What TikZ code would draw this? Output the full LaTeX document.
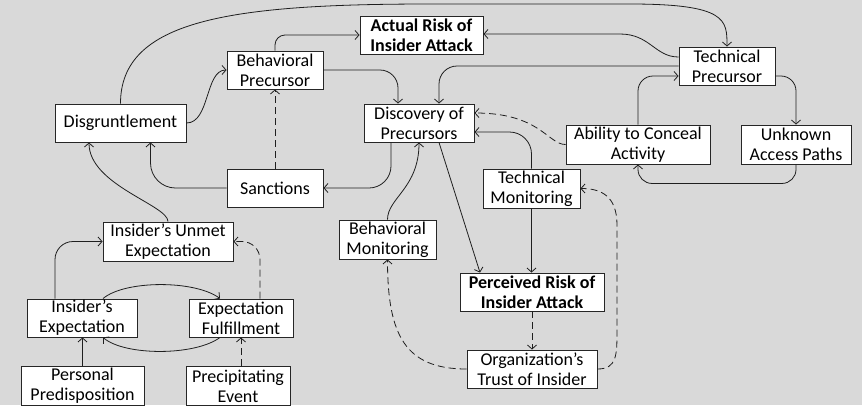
\documentclass[tikz,border=0pt]{standalone}
\usepackage{fontspec}
\setmainfont{Carlito}
\usetikzlibrary{arrows.meta,calc}
\definecolor{bggray}{HTML}{D9D9D9}
\begin{document}
\begin{tikzpicture}[x=1pt,y=-1pt,
  box/.style={draw=black!85, fill=white, line width=0.9pt, inner sep=0pt,
    align=center, font=\fontsize{18}{20}\selectfont},
  boldbox/.style={box, font=\fontsize{18}{20}\selectfont\bfseries},
  link/.style={draw=black!88, line width=0.8pt, -{Straight Barb[length=4pt,width=9pt]}},
  dlink/.style={link, dash pattern=on 7pt off 4pt}]
\useasboundingbox (0,0) rectangle (862,405);
\clip (0,0) rectangle (862,405);
\fill[bggray] (0,0) rectangle (862,405);

% boxes
\node[boldbox, minimum width=123pt, minimum height=38pt] (ar) at (421.5,35) {Actual Risk of\\Insider Attack};
\node[box, minimum width=96pt, minimum height=38pt] (bp) at (275,70) {Behavioral\\Precursor};
\node[box, minimum width=131pt, minimum height=38pt] (dis) at (120.5,123) {Disgruntlement};
\node[box, minimum width=110pt, minimum height=38pt] (dp) at (419,123) {Discovery of\\Precursors};
\node[box, minimum width=96pt, minimum height=38pt] (san) at (275,188) {Sanctions};
\node[box, minimum width=96pt, minimum height=38pt] (tp) at (727,66) {Technical\\Precursor};
\node[box, minimum width=144pt, minimum height=39pt] (ac) at (638,144.5) {Ability to Conceal\\Activity};
\node[box, minimum width=110pt, minimum height=39pt] (ua) at (796,144.5) {Unknown\\Access Paths};
\node[box, minimum width=97pt, minimum height=39pt] (tm) at (531.5,188.5) {Technical\\Monitoring};
\node[box, minimum width=97pt, minimum height=39pt] (bm) at (387.5,239.5) {Behavioral\\Monitoring};
\node[boldbox, minimum width=144pt, minimum height=38pt] (pr) at (532,292) {Perceived Risk of\\Insider Attack};
\node[box, minimum width=130pt, minimum height=38pt] (ot) at (532,369) {Organization’s\\Trust of Insider};
\node[box, minimum width=130pt, minimum height=39pt] (ue) at (168,241.5) {Insider’s Unmet\\Expectation};
\node[box, minimum width=110pt, minimum height=38pt] (ie) at (82,318) {Insider’s\\Expectation};
\node[box, minimum width=104pt, minimum height=38pt] (ef) at (241,318) {Expectation\\Fulfillment};
\node[box, minimum width=123pt, minimum height=39pt] (pp) at (82.5,386) {Personal\\Predisposition};
\node[box, minimum width=104pt, minimum height=39pt] (pe) at (238,386) {Precipitating\\Event};

% upper loop
\draw[link] (dis.north) .. controls (120.5,20) and (230,4) .. (430,4) -- (630,4)
  .. controls (727,4) and (727,20) .. (tp.north);
\draw[link] ([yshift=9pt]tp.west) .. controls (655,57) and (650,34) .. (620,34) -- ([yshift=1pt]ar.east);
\draw[link, rounded corners=10pt] (bp.north) |- (ar.west);
\draw[link] (dis.east) .. controls (210,123) and (205,70) .. (bp.west);
\draw[link, rounded corners=18pt] (bp.east) -| ([xshift=-21pt]dp.north);
\draw[link, rounded corners=18pt] (tp.west) -| ([xshift=20pt]dp.north);
\draw[link, rounded corners=15pt] (ac.north) |- ([yshift=-10pt]tp.west);
\draw[link, rounded corners=15pt] ([yshift=-10pt]tp.east) -| (ua.north);
\draw[link, rounded corners=14pt] (ua.south) -- ++(0,19) -| (ac.south);
\draw[dlink] (ac.west) .. controls (548,144.5) and (540,113) .. ([yshift=10pt]dp.east);
\draw[link, rounded corners=22pt] (tm.north) |- ([yshift=-9pt]dp.east);
\draw[link, rounded corners=22pt] ([xshift=-28pt]dp.south) |- (san.east);
\draw[link] (bm.north) .. controls (387.5,198) and (419,188) .. (dp.south);
\draw[link] ([xshift=20pt]dp.south) -- ([xshift=-52pt]pr.north);
\draw[link] (tm.south) -- (tm.south |- pr.north);
\draw[dlink] (pr.south) -- (ot.north);
\draw[dlink] (ot.west) .. controls (405,369) and (387.5,335) .. (bm.south);
\draw[dlink] (ot.east) .. controls (617,369) and (617,355) .. (617,330) -- (617,225)
  .. controls (617,195) and (600,188.5) .. (tm.east);
\draw[dlink] (san.north) -- (bp.south);
\draw[link, rounded corners=25pt] (san.west) -| ([xshift=30pt]dis.south);

% expectation loop
\draw[link] (ue.north) .. controls (168,205) and (89,185) .. ([xshift=-31.5pt]dis.south);
\draw[link, rounded corners=18pt] ([xshift=-27pt]ie.north) |- (ue.west);
\draw[dlink, rounded corners=18pt] ([xshift=19pt]ef.north) |- (ue.east);
\draw[link] ([xshift=21pt]ie.north) .. controls (125,280) and (195,280) .. ([xshift=-21pt]ef.north);
\draw[link] ([xshift=-21pt]ef.south) .. controls (195,356) and (125,356) .. ([xshift=21pt]ie.south);
\draw[link] (pp.north) -- (pp.north |- ie.south);
\draw[dlink] (pe.north -| ef.south) -- (ef.south);
\end{tikzpicture}
\end{document}
